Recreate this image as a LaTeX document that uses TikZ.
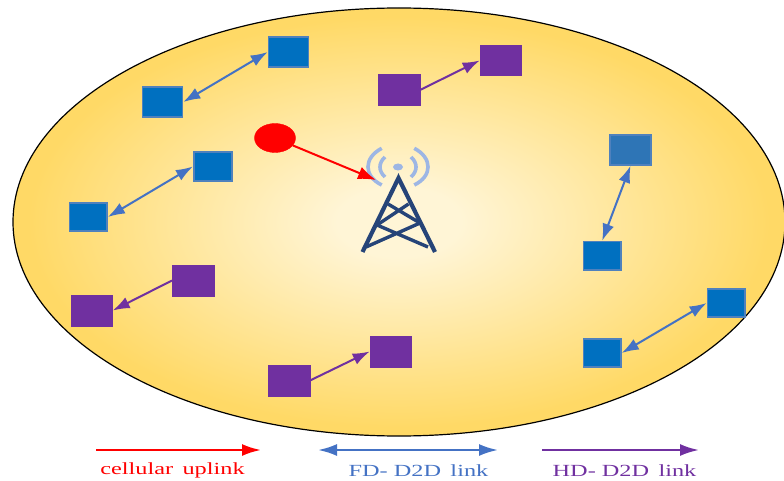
\documentclass[tikz,border=0pt]{standalone}
\usepackage{fontspec}
\usetikzlibrary{arrows.meta,shapes.geometric}
\newfontfamily\legendfont[FakeStretch=1.43]{Liberation Serif}
\definecolor{cellblue}{HTML}{0070C0}
\definecolor{cellblueB}{HTML}{2E75B6}
\definecolor{edgeblue}{HTML}{4F81BD}
\definecolor{linkblue}{HTML}{4472C4}
\definecolor{linkpurple}{HTML}{7030A0}
\definecolor{towerblue}{HTML}{264478}
\definecolor{waveblue}{HTML}{9DB6E4}
\definecolor{goldout}{HTML}{FFD966}
\definecolor{goldin}{HTML}{FFF5D6}
\pgfdeclareradialshading{goldglow}{\pgfpoint{0bp}{0bp}}{%
  color(0bp)=(goldin); color(4bp)=(goldin); color(24bp)=(goldout); color(50bp)=(goldout)}
\tikzset{
  x=1pt, y=-1pt,
  bluedev/.style={draw=edgeblue, line width=1.6pt, fill=cellblue, inner sep=0pt, minimum width=#1},
  bluedev/.default=39pt,
  purpledev/.style={draw=linkpurple, fill=linkpurple, line width=0.5pt, inner sep=0pt, minimum width=41.5pt, minimum height=30.5pt},
  fdlink/.style={draw=linkblue, line width=2pt, {Latex[length=17pt,width=12pt]}-{Latex[length=17pt,width=12pt]}},
  hdlink/.style={draw=linkpurple, line width=2pt, -{Latex[length=17pt,width=12pt]}},
  uplink/.style={draw=red, line width=2pt, -{Latex[length=18pt,width=13pt]}},
  legline/.style={line width=2.4pt, -{Latex[length=19pt,width=12pt]}},
  legboth/.style={line width=2.4pt, {Latex[length=19pt,width=12pt]}-{Latex[length=19pt,width=12pt]}},
  legtext/.style={font=\legendfont\fontsize{17}{18}\selectfont, inner sep=0pt},
  towerleg/.style={draw=towerblue, line width=4.2pt},
  towerbar/.style={draw=towerblue, line width=3.4pt},
  wave/.style={draw=waveblue, line width=3.6pt}
}
\begin{document}
\begin{tikzpicture}
\useasboundingbox (0,0) rectangle (784,481);
\clip (0,0) rectangle (784,481);
\path[shading=goldglow, draw=black, line width=1.2pt] (399,222) ellipse [x radius=386, y radius=214];
\node[bluedev=40pt, minimum height=29.5pt] (b1) at (288.5,52) {};
\node[bluedev=40pt, minimum height=29.5pt] (b2) at (162.5,102) {};
\node[bluedev=38pt, minimum height=28.5pt] (b3) at (212.7,166.5) {};
\node[bluedev=37.5pt, minimum height=27.5pt] (b4) at (88.3,217) {};
\node[bluedev=40.5pt, minimum height=30pt, fill=cellblueB] (b5) at (630.5,150) {};
\node[bluedev=37.5pt, minimum height=28.5pt] (b6) at (602.2,255.8) {};
\node[bluedev=37.5pt, minimum height=27.5pt] (b7) at (726.2,303) {};
\node[bluedev=37.5pt, minimum height=27.5pt] (b8) at (602.2,353) {};
\node[purpledev] (p1) at (399,90) {};
\node[purpledev] (p2) at (500.7,60.5) {};
\node[purpledev] (p3) at (193,280.5) {};
\node[purpledev] (p4) at (91.7,310.5) {};
\node[purpledev] (p5) at (289,380.5) {};
\node[purpledev] (p6) at (390.7,351.5) {};
\node[fill=red, draw=red, ellipse, inner sep=0pt, minimum width=41pt, minimum height=29pt] (ue) at (275,138) {};
\draw[wave] (381.7,148.3) .. controls (363.4,158) and (363.4,176) .. (381.7,185);
\draw[wave] (414.3,148.3) .. controls (432.6,158) and (432.6,176) .. (414.3,185);
\draw[wave] (385,157) .. controls (378.3,163) and (378.3,171) .. (385,177);
\draw[wave] (411,157) .. controls (417.7,163) and (417.7,171) .. (411,177);
\path[fill=waveblue] (398,167) ellipse [x radius=5, y radius=3.5];
\draw[towerleg, line join=miter] (362.5,252) -- (398.5,178) -- (435,252);
\draw[towerbar] (388,204) -- (420,223) (408.5,204) -- (377,225);
\draw[towerbar] (377,225) -- (428,247) (420,223) -- (366,247);
\coordinate (rx) at (376,180);
\draw[uplink] (ue) -- (rx);
\draw[fdlink] (b1.west) -- (b2.east);
\draw[fdlink] (b3.west) -- (b4.east);
\draw[fdlink] (b5.south) -- (b6.north);
\draw[fdlink] (b7.west) -- (b8.east);
\draw[hdlink] (p1.east) -- (p2.west);
\draw[hdlink] (p3.west) -- (p4.east);
\draw[hdlink] (p5.east) -- (p6.west);
\coordinate (l1a) at (96,450); \coordinate (l1b) at (261,450);
\coordinate (l2a) at (318,450); \coordinate (l2b) at (498,450);
\coordinate (l3a) at (542,450); \coordinate (l3b) at (699,450);
\draw[legline, draw=red] (l1a) -- (l1b);
\draw[legboth, draw=linkblue] (l2a) -- (l2b);
\draw[legline, draw=linkpurple] (l3a) -- (l3b);
\node[legtext, text=red] (t1) at (172.5,470.5) {cellular\hspace{0.55em}uplink};
\node[legtext, text=linkblue] (t2) at (418.5,470.5) {FD- D2D\hspace{0.55em}link};
\node[legtext, text=linkpurple] (t3) at (624.5,470.5) {HD- D2D\hspace{0.55em}link};
\end{tikzpicture}
\end{document}
